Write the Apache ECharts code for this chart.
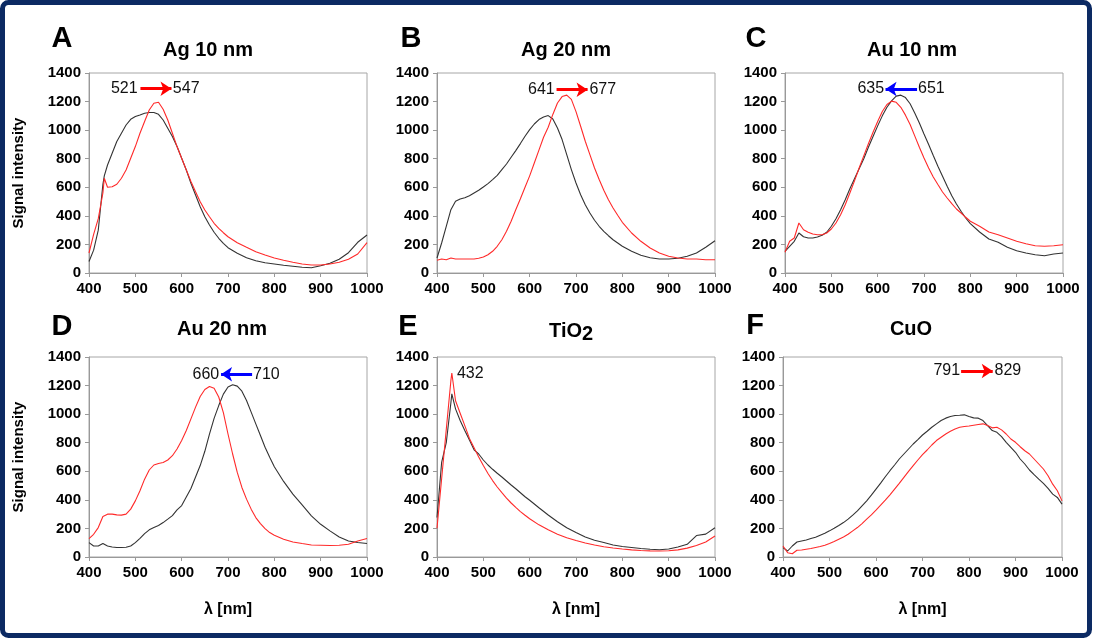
<!DOCTYPE html>
<html>
<head>
<meta charset="utf-8">
<title>Spectra</title>
<script src="https://cdn.jsdelivr.net/npm/echarts@6/dist/echarts.min.js"></script>
<style>
  html, body { margin: 0; padding: 0; background: #fff; }
  #main { width: 1093px; height: 640px; }
</style>
</head>
<body>
<div id="main"></div>
<script>
// wavelengths (nm) and signal intensity
var wlA = [400,410,420,430,433,440,450,460,470,480,490,500,510,520,530,540,550,560,570,580,590,600,610,620,630,640,650,660,670,680,690,700,
           720,740,760,780,800,820,840,860,880,900,920,940,960,980,1000];
var blackA = [80,160,300,620,680,756,838,920,978,1036,1076,1095,1106,1118,1123,1123,1111,1071,1013,955,885,803,721,628,546,464,394,336,285,243,208,177,
              138,107,86,72,63,54,47,40,37,51,68,96,142,215,266];
var redA = [140,270,380,560,663,600,604,621,663,721,803,885,978,1060,1141,1188,1195,1146,1071,978,885,803,721,640,569,499,441,394,348,313,282,254,
            212,180,149,126,105,89,75,63,56,56,63,75,96,133,212];

var wl10to800 = [400,410,420,430,440,450,460,470,480,490,500,510,520,530,540,550,560,570,580,590,600,610,620,630,640,650,660,670,680,690,700,
                 710,720,730,740,750,760,770,780,790,800,820,840,860,880,900,920,940,960,980,1000];

var wlB = wl10to800;
var blackB = [105,210,327,443,502,518,527,541,560,579,602,626,654,684,724,763,810,857,906,957,1004,1043,1074,1092,1102,1078,1015,934,829,724,630,
              548,478,420,369,327,292,261,233,210,187,152,124,107,98,98,103,117,140,180,226];
var redB = [89,98,93,105,98,98,98,98,98,103,112,128,152,187,233,292,362,443,520,600,680,770,860,950,1020,1110,1190,1235,1245,1215,1130,
            1027,922,829,735,654,579,513,455,404,355,280,222,175,140,117,105,98,98,93,93];

var wlC = wl10to800;
var blackC = [152,187,222,280,254,245,245,252,264,285,327,380,443,513,590,660,730,800,880,955,1030,1100,1160,1205,1238,1245,1228,1185,1120,1050,973,
              899,822,747,677,607,541,483,432,385,345,287,238,215,180,156,140,128,121,133,140];
var redC = [145,222,245,350,303,285,273,268,268,280,308,350,408,478,560,645,735,820,905,985,1060,1130,1180,1203,1195,1160,1105,1040,960,880,805,
            735,672,619,567,525,485,448,420,390,362,327,287,268,245,222,205,191,187,191,198];

var wlD = wl10to800;
var blackD = [101,77,77,94,77,70,66,66,68,77,101,131,164,190,206,220,241,265,290,330,360,420,480,560,640,740,860,970,1060,1140,1190,
              1206,1196,1161,1096,1014,932,850,768,698,632,529,440,365,288,229,183,140,112,101,94];
var redD = [129,159,206,283,300,300,295,293,300,335,393,464,545,609,644,655,662,679,709,756,815,885,967,1049,1124,1173,1194,1182,1120,1010,861,
            721,592,487,405,335,276,234,199,171,152,124,105,94,84,82,80,82,89,112,129];

var wlE = [400,410,420,430,432,440,450,460,470,480,490,500,510,520,530,540,550,560,570,580,590,600,
           620,640,660,680,700,720,740,760,780,800,820,840,860,880,900,920,940,960,980,1000];
var blackE = [276,662,800,1080,1142,1037,955,885,819,750,721,679,644,614,586,560,532,504,478,450,422,397,
              345,294,247,205,171,140,117,101,84,73,66,59,54,51,56,70,89,150,160,205];
var redE = [201,548,892,1236,1288,1094,1006,920,830,765,700,640,585,535,490,450,412,378,347,318,292,268,
            225,190,160,135,115,98,84,72,63,56,50,46,43,42,44,50,62,80,105,147];

var wlF = [400,410,420,430,440,450,460,470,480,490,500,510,520,530,540,550,560,570,580,590,600,610,620,630,640,650,660,670,680,690,
           700,710,720,730,740,750,760,770,780,790,800,810,820,830,840,850,860,870,880,890,900,910,920,930,940,950,960,970,980,990,1000];
var blackF = [66,42,77,105,112,119,129,138,152,166,183,201,220,241,265,293,323,358,393,433,475,517,562,604,644,686,721,756,791,822,
              854,880,908,932,955,972,983,990,992,995,983,974,972,955,920,885,873,843,803,768,733,686,651,609,576,545,515,480,440,417,370];
var redF = [77,30,23,47,49,54,59,66,73,82,94,108,124,140,159,183,206,234,265,295,328,363,398,435,475,515,557,599,639,679,
            716,749,784,815,838,861,880,896,908,913,917,922,927,932,920,904,908,890,861,826,803,772,744,721,686,651,616,569,510,464,393];

var panelTitles = ['Ag 10 nm', 'Ag 20 nm', 'Au 10 nm', 'Au 20 nm', 'TiO2', 'CuO'];
var panelLetters = ['A', 'B', 'C', 'D', 'E', 'F'];
var shiftLabels = [['521', '547'], ['641', '677'], ['635', '651'], ['660', '710'], ['432'], ['791', '829']];
var xTicks = { min: 400, max: 1000, step: 100 };
var yTicks = { min: 0, max: 1400, step: 200 };

var FONT = 'Arial, "Liberation Sans", sans-serif';
var RED = '#ff0000', BLUE = '#0000ff';

function pairs(xs, ys) {
  return xs.map(function (x, i) { return [x, ys[i]]; });
}
function plain(v) { return String(v); }   // no thousands separator

// layout of each panel; annotation anchors are in data units
var panels = [
  { x: wlA, black: blackA, red: redA, grid: { left: 89, top: 73, width: 278, height: 200 },
    letter: [62, 39], head: [208, 50], yName: true, xName: false,
    arrow: { from: [511, 1290], to: [578, 1290], color: RED },
    marks: [{ at: [505, 1290], pos: 'left' }, { at: [581, 1290], pos: 'right' }] },
  { x: wlB, black: blackB, red: redB, grid: { left: 437, top: 73, width: 278, height: 200 },
    letter: [411, 39], head: [566, 50], yName: false, xName: false,
    arrow: { from: [658, 1283], to: [725, 1283], color: RED },
    marks: [{ at: [654, 1283], pos: 'left' }, { at: [729, 1283], pos: 'right' }] },
  { x: wlC, black: blackC, red: redC, grid: { left: 785, top: 73, width: 278, height: 200 },
    letter: [756, 39], head: [912, 50], yName: false, xName: false,
    arrow: { from: [685, 1288], to: [617, 1288], color: BLUE },
    marks: [{ at: [614, 1288], pos: 'left' }, { at: [687, 1288], pos: 'right' }] },
  { x: wlD, black: blackD, red: redD, grid: { left: 89, top: 357, width: 278, height: 200 },
    letter: [62, 327], head: [222, 329], yName: true, xName: true,
    arrow: { from: [752, 1279], to: [685, 1279], color: BLUE },
    marks: [{ at: [681, 1279], pos: 'left' }, { at: [754, 1279], pos: 'right' }] },
  { x: wlE, black: blackE, red: redE, grid: { left: 437, top: 357, width: 278, height: 200 },
    letter: [408, 327], head: [571, 331], yName: false, xName: true,
    arrow: null,
    marks: [{ at: [443, 1284], pos: 'right' }] },
  { x: wlF, black: blackF, red: redF, grid: { left: 783, top: 357, width: 279, height: 200 },
    letter: [755, 326], head: [911, 329], yName: false, xName: true,
    arrow: { from: [783, 1302], to: [851, 1302], color: RED },
    marks: [{ at: [781, 1302], pos: 'left' }, { at: [855, 1302], pos: 'right' }] }
];

var myChart = echarts.init(document.getElementById('main'), null, { renderer: 'canvas' });

var grids = [], xAxes = [], yAxes = [], series = [];
var graphics = [{
  type: 'rect',
  shape: { x: 2.5, y: 2.5, width: 1087, height: 633, r: 6 },
  style: { fill: 'none', stroke: '#0c2a63', lineWidth: 5 },
  z: 100
}];

panels.forEach(function (p, i) {
  grids.push(Object.assign({ show: true, borderColor: '#a6a6a6', borderWidth: 1 }, p.grid));

  xAxes.push({
    gridIndex: i, type: 'value', min: xTicks.min, max: xTicks.max, interval: xTicks.step,
    name: p.xName ? 'λ [nm]' : '', nameLocation: 'middle', nameGap: 45,
    nameTextStyle: { fontSize: 16, fontWeight: 'bold', color: '#000', fontFamily: FONT },
    axisLine: { show: true, onZero: false, lineStyle: { color: '#999', width: 1 } },
    axisTick: { show: true, inside: false, length: 4, lineStyle: { color: '#999' } },
    axisLabel: { fontSize: 15, fontWeight: 'bold', color: '#000', fontFamily: FONT, margin: 8, formatter: plain },
    splitLine: { show: false }
  });

  yAxes.push({
    gridIndex: i, type: 'value', min: yTicks.min, max: yTicks.max, interval: yTicks.step,
    name: p.yName ? 'Signal intensity' : '', nameLocation: 'middle', nameRotate: 90, nameGap: 63,
    nameTextStyle: { fontSize: 15, fontWeight: 'bold', color: '#000', fontFamily: FONT },
    axisLine: { show: true, lineStyle: { color: '#999', width: 1 } },
    axisTick: { show: true, inside: false, length: 4, lineStyle: { color: '#999' } },
    axisLabel: { fontSize: 15, fontWeight: 'bold', color: '#000', fontFamily: FONT, margin: 8, formatter: plain },
    splitLine: { show: false }
  });

  series.push({
    type: 'line', xAxisIndex: i, yAxisIndex: i, data: pairs(p.x, p.black),
    showSymbol: false, smooth: false, lineStyle: { color: '#333', width: 1.1 },
    itemStyle: { color: '#333' }, silent: true, z: 2
  });

  var red = {
    type: 'line', xAxisIndex: i, yAxisIndex: i, data: pairs(p.x, p.red),
    showSymbol: false, smooth: false, lineStyle: { color: '#ff2a2a', width: 1.1 },
    itemStyle: { color: '#ff2a2a' }, silent: true, z: 3,
    markPoint: {
      silent: true, symbol: 'circle', symbolSize: 0, animation: false,
      itemStyle: { color: 'rgba(0,0,0,0)' },
      data: p.marks.map(function (m, k) {
        return {
          coord: m.at,
          label: { show: true, position: m.pos, distance: 0, formatter: shiftLabels[i][k],
                   fontSize: 16, color: '#111', fontFamily: FONT }
        };
      })
    }
  };
  if (p.arrow) {
    red.markLine = {
      silent: true, animation: false, symbol: ['none', 'arrow'], symbolSize: [11, 11],
      label: { show: false },
      lineStyle: { color: p.arrow.color, width: 3, type: 'solid' },
      data: [[{ coord: p.arrow.from }, { coord: p.arrow.to }]]
    };
  }
  series.push(red);

  graphics.push({
    type: 'text', x: p.letter[0], y: p.letter[1],
    style: { text: panelLetters[i], font: 'bold 29px ' + FONT, fill: '#000', align: 'center', verticalAlign: 'middle' }
  });

  if (panelTitles[i] === 'TiO2') {
    graphics.push({
      type: 'text', x: p.head[0] + 11, y: p.head[1],
      style: { text: 'TiO', font: 'bold 20px ' + FONT, fill: '#000', align: 'right', verticalAlign: 'middle' }
    });
    graphics.push({
      type: 'text', x: p.head[0] + 11, y: p.head[1] + 3,
      style: { text: '2', font: 'bold 20px ' + FONT, fill: '#000', align: 'left', verticalAlign: 'middle' }
    });
  } else {
    graphics.push({
      type: 'text', x: p.head[0], y: p.head[1],
      style: { text: panelTitles[i], font: 'bold 20px ' + FONT, fill: '#000', align: 'center', verticalAlign: 'middle' }
    });
  }
});

var option = {
  animation: false,
  backgroundColor: '#fff',
  grid: grids,
  xAxis: xAxes,
  yAxis: yAxes,
  series: series,
  graphic: graphics
};
myChart.setOption(option);
</script>
</body>
</html>
